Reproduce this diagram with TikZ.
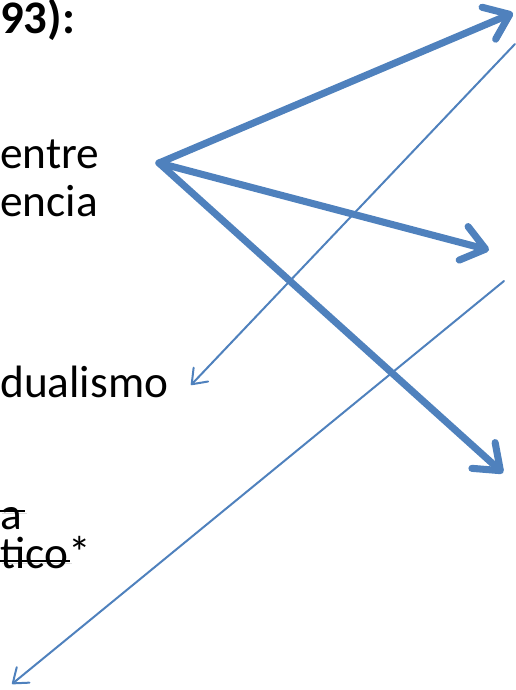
\documentclass[tikz,border=0pt]{standalone}
\usepackage{fontspec}
\setmainfont{Carlito}
\usetikzlibrary{arrows.meta}
\definecolor{ofblue}{RGB}{79,129,189}

\begin{document}
\begin{tikzpicture}[x=0.75pt,y=-0.75pt,
    txt/.style={anchor=base west,inner sep=0pt,font=\fontsize{34}{40}\selectfont},
    shade/.style={preaction={draw=black,opacity=0.12,
      transform canvas={shift={(1.6pt,-1.8pt)}}}},
    bigarrow/.style={ofblue,line width=5.3pt,line cap=round,shade,
      -{Straight Barb[round,length=17pt,width=26pt]}},
    thinarrow/.style={ofblue,line width=1.5pt,line cap=round,
      -{Straight Barb[round,length=10pt,width=15pt]}},
    strikeout/.style={line width=2.2pt,shade}]
  \useasboundingbox (0,0) rectangle (516,690);
  % texts on the left
  \node[txt,font=\fontsize{35}{42}\selectfont\bfseries] (anio) at (0,33) {93):};
  \node[txt] (entre) at (0,168) {entre};
  \node[txt] (encia) at (0,216) {encia};
  \node[txt] (dual) at (0,397) {dualismo};
  \node[txt] (aa) at (0,529) {a};
  \node[txt] (tico) at (0,568) {tico*};
  \draw[strikeout] (0,511) -- (25,511);
  \draw[strikeout] (0,561) -- (70,561);
  % arrow ends
  \coordinate (hub) at (159,163);
  \coordinate (up) at (513,13);
  \coordinate (mid) at (489,250);
  \coordinate (low) at (503,473);
  \coordinate (s1) at (515,44);
  \coordinate (e1) at (191,385);
  \coordinate (s2) at (504,281);
  \coordinate (e2) at (12,684);
  \draw[bigarrow] (hub) -- (up);
  \draw[bigarrow] (hub) -- (mid);
  \draw[bigarrow] (hub) -- (low);
  \draw[thinarrow] (s1) -- (e1);
  \draw[thinarrow] (s2) -- (e2);
\end{tikzpicture}
\end{document}
